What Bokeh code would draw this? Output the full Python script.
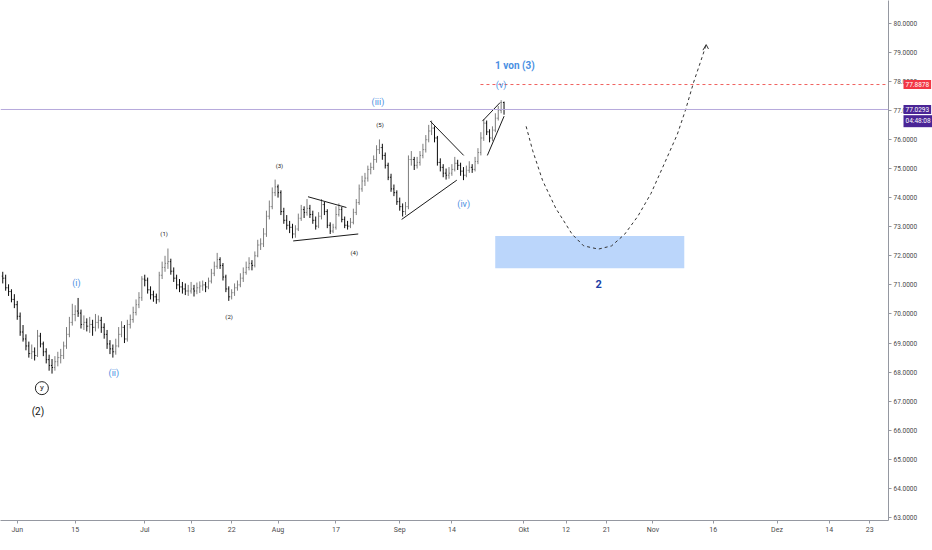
from bokeh.plotting import figure
from bokeh.models import Range1d, FixedTicker, Label, NumeralTickFormatter, ColumnDataSource, Span
from bokeh.core.properties import value
from bokeh.embed import file_html
from bokeh.resources import INLINE

# ---------------- data ----------------
opens = [71.30, 71.23, 70.90, 70.77, 70.50, 70.32, 69.92, 69.38, 69.14, 68.90,
         68.64, 68.70, 68.57, 69.24, 68.97, 68.70, 68.43, 68.23, 68.16, 68.36,
         68.50, 68.57, 68.90, 69.30, 69.71, 69.98, 70.10, 70.03, 69.64, 69.71,
         69.58, 69.64, 69.54, 69.71, 69.78, 69.54, 69.30, 68.97, 68.80, 68.70,
         68.90, 69.30, 69.54, 69.14, 69.64, 69.81, 70.05, 70.32, 70.56, 71.20,
         71.16, 70.83, 70.66, 70.59, 70.49, 71.33, 71.60, 71.74, 71.80, 71.47,
         71.23, 71.00, 70.93, 70.86, 70.79, 70.79, 70.86, 70.79, 70.90, 70.96,
         71.00, 70.93, 71.13, 71.40, 71.64, 71.87, 71.67, 71.27, 70.86, 70.59,
         70.73, 70.90, 71.00, 71.23, 71.43, 71.60, 71.74, 71.67, 72.00, 72.37,
         72.41, 72.75, 73.36, 73.69, 74.17, 74.37, 74.17, 73.52, 73.22, 73.05,
         72.98, 72.75, 72.92, 73.29, 73.59, 73.49, 73.63, 73.42, 73.22, 73.02,
         73.36, 73.76, 73.52, 73.05, 72.85, 72.98, 73.42, 73.59, 73.25, 73.05,
         73.02, 73.15, 73.49, 73.83, 74.30, 74.57, 74.67, 74.97, 75.04, 75.31,
         75.65, 75.72, 75.45, 75.11, 74.70, 74.30, 74.17, 73.86, 73.69, 73.52,
         73.69, 75.31, 75.31, 75.11, 75.21, 75.45, 75.65, 75.99, 76.29, 76.39,
         76.05, 75.21, 75.04, 74.84, 74.77, 74.84, 74.97, 75.18, 75.11, 74.91,
         74.77, 74.94, 75.04, 74.97, 75.24, 75.55, 76.05, 76.56, 76.26, 76.05,
         76.32, 76.73, 77.00, 77.27]
highs = [71.45, 71.35, 71.02, 70.85, 70.68, 70.45, 70.05, 69.62, 69.30, 69.05,
         68.95, 68.85, 69.45, 69.35, 69.05, 68.82, 68.60, 68.45, 68.55, 68.70,
         68.80, 69.05, 69.55, 69.90, 70.35, 70.30, 70.55, 70.15, 69.95, 69.85,
         69.90, 69.80, 70.00, 69.95, 69.90, 69.68, 69.45, 69.10, 68.95, 69.15,
         69.55, 69.75, 69.62, 69.80, 69.98, 70.25, 70.50, 70.75, 71.30, 71.35,
         71.25, 70.95, 70.80, 70.70, 71.45, 71.80, 72.00, 72.25, 71.90, 71.60,
         71.35, 71.20, 71.10, 71.05, 71.00, 71.10, 71.00, 71.08, 71.12, 71.15,
         71.10, 71.25, 71.55, 71.80, 72.10, 71.95, 71.75, 71.35, 70.95, 70.85,
         71.05, 71.15, 71.40, 71.60, 71.80, 71.95, 71.85, 72.15, 72.55, 72.60,
         72.95, 73.55, 73.90, 74.35, 74.62, 74.45, 74.25, 73.65, 73.40, 73.20,
         73.10, 73.05, 73.45, 73.75, 73.70, 73.95, 73.75, 73.55, 73.35, 73.50,
         73.95, 73.85, 73.60, 73.15, 73.10, 73.70, 73.80, 73.68, 73.35, 73.20,
         73.30, 73.62, 73.95, 74.45, 74.75, 74.85, 75.10, 75.20, 75.45, 75.80,
         76.00, 75.85, 75.55, 75.20, 74.82, 74.45, 74.25, 74.00, 73.80, 73.85,
         75.45, 75.60, 75.40, 75.40, 75.60, 75.85, 76.15, 76.50, 76.65, 76.45,
         76.12, 75.35, 75.15, 75.00, 75.05, 75.15, 75.40, 75.30, 75.20, 75.05,
         75.10, 75.25, 75.15, 75.40, 75.70, 76.25, 76.70, 76.65, 76.35, 76.45,
         76.90, 77.15, 77.35, 77.30]
lows = [71.05, 70.80, 70.62, 70.40, 70.20, 69.80, 69.25, 69.05, 68.75, 68.50,
        68.45, 68.40, 68.52, 68.85, 68.55, 68.30, 68.05, 67.95, 68.05, 68.20,
        68.30, 68.45, 68.80, 69.20, 69.60, 69.75, 69.90, 69.50, 69.45, 69.40,
        69.35, 69.25, 69.40, 69.50, 69.35, 69.15, 68.80, 68.62, 68.50, 68.60,
        68.85, 69.20, 69.00, 69.05, 69.50, 69.70, 69.95, 70.20, 70.45, 70.95,
        70.70, 70.50, 70.42, 70.35, 70.40, 71.20, 71.45, 71.55, 71.35, 71.10,
        70.85, 70.75, 70.70, 70.65, 70.62, 70.70, 70.60, 70.68, 70.72, 70.80,
        70.75, 70.85, 71.05, 71.30, 71.55, 71.55, 71.15, 70.75, 70.45, 70.50,
        70.62, 70.80, 70.92, 71.10, 71.35, 71.50, 71.50, 71.60, 71.95, 72.20,
        72.30, 72.65, 73.25, 73.60, 74.05, 74.00, 73.40, 73.10, 72.90, 72.78,
        72.60, 72.62, 72.85, 73.20, 73.30, 73.38, 73.30, 73.10, 72.90, 72.95,
        73.25, 73.40, 72.95, 72.75, 72.78, 72.90, 73.35, 73.15, 72.95, 72.90,
        72.95, 73.08, 73.40, 73.75, 74.20, 74.40, 74.55, 74.80, 74.95, 75.20,
        75.50, 75.30, 75.00, 74.60, 74.20, 74.05, 73.75, 73.55, 73.35, 73.40,
        73.60, 75.10, 74.95, 75.00, 75.10, 75.35, 75.55, 75.90, 76.15, 75.90,
        75.10, 74.90, 74.70, 74.62, 74.65, 74.75, 74.90, 74.95, 74.75, 74.60,
        74.70, 74.85, 74.85, 74.90, 75.15, 75.45, 75.95, 76.15, 75.90, 75.95,
        76.25, 76.65, 76.90, 76.85]
closes = [71.23, 70.90, 70.77, 70.50, 70.32, 69.92, 69.38, 69.14, 68.90, 68.64,
          68.70, 68.57, 69.24, 68.97, 68.70, 68.43, 68.23, 68.16, 68.36, 68.50,
          68.57, 68.90, 69.30, 69.71, 69.98, 70.10, 70.03, 69.64, 69.71, 69.58,
          69.64, 69.54, 69.71, 69.78, 69.54, 69.30, 68.97, 68.80, 68.70, 68.90,
          69.30, 69.54, 69.14, 69.64, 69.81, 70.05, 70.32, 70.56, 71.20, 71.16,
          70.83, 70.66, 70.59, 70.49, 71.33, 71.60, 71.74, 71.80, 71.47, 71.23,
          71.00, 70.93, 70.86, 70.79, 70.79, 70.86, 70.79, 70.90, 70.96, 71.00,
          70.93, 71.13, 71.40, 71.64, 71.87, 71.67, 71.27, 70.86, 70.59, 70.73,
          70.90, 71.00, 71.23, 71.43, 71.60, 71.74, 71.67, 72.00, 72.37, 72.41,
          72.75, 73.36, 73.69, 74.17, 74.37, 74.17, 73.52, 73.22, 73.05, 72.98,
          72.75, 72.92, 73.29, 73.59, 73.49, 73.63, 73.42, 73.22, 73.02, 73.36,
          73.76, 73.52, 73.05, 72.85, 72.98, 73.42, 73.59, 73.25, 73.05, 73.02,
          73.15, 73.49, 73.83, 74.30, 74.57, 74.67, 74.97, 75.04, 75.31, 75.65,
          75.72, 75.45, 75.11, 74.70, 74.30, 74.17, 73.86, 73.69, 73.52, 73.69,
          75.31, 75.31, 75.11, 75.21, 75.45, 75.65, 75.99, 76.29, 76.39, 76.05,
          75.21, 75.04, 74.84, 74.77, 74.84, 74.97, 75.18, 75.11, 74.91, 74.77,
          74.94, 75.04, 74.97, 75.24, 75.55, 76.05, 76.56, 76.26, 76.05, 76.32,
          76.73, 77.00, 77.27, 77.03]

# x-axis: trading-day index (0 = 1 Jun), two bars per day
bar_start = -2.5
bar_step = 0.5

x_tick_pos = [0, 10, 22, 30, 37, 45, 55, 66, 75, 87.4, 94.7, 101.7, 109.7, 120.1, 131.1, 140.1, 147.1]
x_tick_labels = ["Jun", "15", "Jul", "13", "22", "Aug", "17", "Sep", "14",
                 "Okt", "12", "21", "Nov", "16", "Dez", "14", "23"]
y_ticks = [63, 64, 65, 66, 67, 68, 69, 70, 71, 72, 73, 74, 75, 76, 77, 78, 79, 80]

last_price = 77.0293
target_price = 77.8878
countdown = "04:48:08"

# projected path (dashed curve)
proj_x = [87.81, 88.95, 90.65, 92.91, 95.75, 97.74, 100.29, 102.55, 104.81, 107.09,
          109.35, 111.62, 113.89, 115.31, 116.72, 117.86, 118.71, 118.88]
proj_y = [76.45, 75.61, 74.59, 73.64, 72.74, 72.34, 72.23, 72.34, 72.74, 73.36,
          74.14, 75.15, 76.17, 77.01, 77.97, 78.64, 79.15, 79.26]

# target zone for wave 2
zone_x = [82.48, 115.1]
zone_y = [71.57, 72.68]

# trend-lines (x0, y0, x1, y1)
tl_x0 = [50.17, 47.62, 71.26, 66.33, 80.27, 81.12]
tl_y0 = [74.03, 72.51, 76.63, 73.25, 76.63, 75.45]
tl_x1 = [56.80, 58.84, 77.04, 75.85, 83.33, 84.01]
tl_y1 = [73.66, 72.75, 75.45, 74.60, 77.27, 76.80]

# Elliott wave labels
blue_text = ["(i)", "(ii)", "(iii)", "(iv)", "(v)"]
blue_x = [10.2, 16.67, 62.24, 77.04, 83.5]
blue_y = [71.06, 67.96, 77.30, 73.79, 77.875]

small_text = ["(1)", "(2)", "(3)", "(4)", "(5)"]
small_x = [25.34, 36.56, 45.24, 58.16, 62.59]
small_y = [72.78, 69.92, 75.11, 72.11, 76.53]

# ---------------- figure ----------------
FRAME_W = 888
FRAME_H = 520
X0, X1 = -2.89, 150.34
Y0, Y1 = 62.90, 80.776

p = figure(frame_width=FRAME_W, frame_height=FRAME_H,
           x_range=Range1d(X0, X1), y_range=Range1d(Y0, Y1),
           output_backend="svg", toolbar_location=None,
           y_axis_location="right",
           min_border_left=0, min_border_top=0, min_border_right=0, min_border_bottom=0,
           background_fill_color="white", border_fill_color="white")
p.xgrid.visible = False
p.ygrid.visible = False
p.outline_line_color = None

FONT = "Roboto"

# axes
xa = p.xaxis[0]
xa.ticker = FixedTicker(ticks=x_tick_pos)
xa.major_label_overrides = {t: l for t, l in zip(x_tick_pos, x_tick_labels)}
xa.minor_tick_line_color = None
xa.major_tick_in = 0
xa.major_tick_out = 3
xa.major_label_standoff = 2
xa.axis_line_color = "#9598a1"
xa.major_tick_line_color = "#9598a1"
xa.major_label_text_font = FONT
xa.major_label_text_font_size = "7px"
xa.major_label_text_color = "#4a4a4a"

ya = p.yaxis[0]
ya.ticker = FixedTicker(ticks=y_ticks)
ya.formatter = NumeralTickFormatter(format="0.0000")
ya.minor_tick_line_color = None
ya.major_tick_in = 0
ya.major_tick_out = 3
ya.major_label_standoff = 2
ya.axis_line_color = "#9598a1"
ya.major_tick_line_color = "#9598a1"
ya.major_label_text_font = FONT
ya.major_label_text_font_size = "6.5px"
ya.major_label_text_color = "#4a4a4a"

# target zone
p.quad(left=[zone_x[0]], right=[zone_x[1]], bottom=[zone_y[0]], top=[zone_y[1]],
       fill_color="#bbd6fb", fill_alpha=1.0, line_color=None)

# horizontal price lines
p.add_layout(Span(location=last_price, dimension="width", line_color="#b7a9dc", line_width=1))
p.segment(x0=[79.93], y0=[target_price], x1=[X1 + 5], y1=[target_price],
          line_color="#f0625f", line_width=1, line_dash="3 3")

# OHLC bars
xs = [bar_start + bar_step * i for i in range(len(closes))]
cols = ["#7d7d7d" if c >= o else "#0a0a0a" for o, c in zip(opens, closes)]
src = ColumnDataSource(dict(
    x=xs, o=opens, h=highs, l=lows, c=closes, col=cols,
    xl=[x - 0.17 for x in xs], xr=[x + 0.17 for x in xs]))
p.segment(x0="x", y0="l", x1="x", y1="h", line_color="col", line_width=1, source=src)
p.segment(x0="xl", y0="o", x1="x", y1="o", line_color="col", line_width=1, source=src)
p.segment(x0="x", y0="c", x1="xr", y1="c", line_color="col", line_width=1, source=src)

# trend lines
p.segment(x0=tl_x0, y0=tl_y0, x1=tl_x1, y1=tl_y1, line_color="#1a1a1a", line_width=1)

# projection
p.line(proj_x, proj_y, line_color="#333333", line_width=1, line_dash="3 3")
p.segment(x0=[118.32, 119.27], y0=[79.07, 79.11], x1=[118.88, 118.88], y1=[79.26, 79.26],
          line_color="#333333", line_width=1)

# labels
p.text(x=blue_x, y=blue_y, text=blue_text, text_font=value(FONT), text_font_size="9px",
       text_color="#4a90e2", text_align="center", text_baseline="middle")
p.text(x=[85.88], y=[78.55], text=["1 von (3)"], text_font=value(FONT), text_font_size="10px",
       text_font_style="bold", text_color="#4a90e2", text_align="center", text_baseline="middle")
p.text(x=[100.34], y=[71.03], text=["2"], text_font=value(FONT), text_font_size="11px",
       text_font_style="bold", text_color="#1c3fa6", text_align="center", text_baseline="middle")
p.text(x=small_x, y=small_y, text=small_text, text_font=value(FONT), text_font_size="6px",
       text_color="#222222", text_align="center", text_baseline="middle")
p.scatter(x=[4.25], y=[67.45], size=13, marker="circle", fill_color=None,
          line_color="#222222", line_width=1)
p.text(x=[4.25], y=[67.47], text=["y"], text_font=value(FONT), text_font_size="8px",
       text_color="#222222", text_align="center", text_baseline="middle")
p.text(x=[3.57], y=[66.64], text=["(2)"], text_font=value(FONT), text_font_size="10px",
       text_color="#111111", text_align="center", text_baseline="middle")

# price boxes on the right scale (side-panel labels; each one is stacked outward,
# so later ones are shifted back by the widths of the earlier ones)
box_specs = [("77.8878", target_price, "#f23645", -17),
             ("77.0293", last_price, "#4a2596", -45),
             (countdown, 76.627, "#4a2596", -73)]
for txt, yv, col, dx in box_specs:
    p.add_layout(Label(x=dx, y=yv, x_units="screen", y_units="data",
                       text=txt, text_font=FONT, text_font_size="6.5px", text_color="white",
                       text_baseline="middle", background_fill_color=col, padding=2), "right")

open("out.html", "w").write(file_html(p, INLINE))
